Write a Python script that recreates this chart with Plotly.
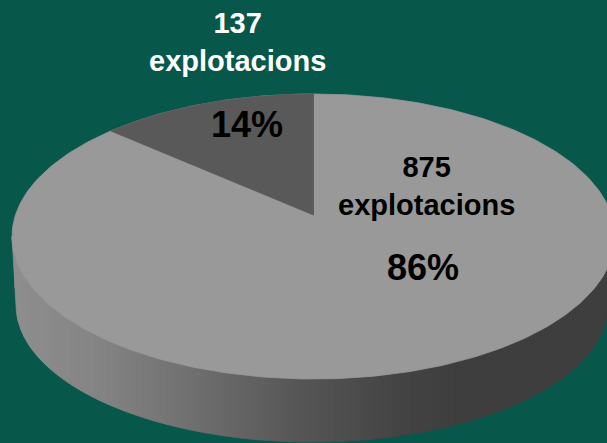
import numpy as np
import plotly.graph_objects as go

# Data
categories = ["Grup A", "Grup B"]
farm_counts = [137, 875]
percent_labels = ["14%", "86%"]
unit_label = "explotacions"

# Styling / geometry
W, H = 607, 443
BG = "#08574b"
TOP = "#999999"
WEDGE = "#595959"
CX, CY, RX, RY = 313.5, 236.5, 301.5, 142.5
TIP_Y = 215
LOW_CX, LOW_CY, LOW_RX, LOW_RY = 312, 305, 296, 137
GRAD_X = [0, 20, 100, 200, 300, 400, 465, 607]
GRAD_V = [142, 142, 132, 110, 86, 68, 62, 62]
STRIP = 3

fig = go.Figure()


def poly(xs, ys, color):
    fig.add_trace(go.Scatter(x=xs, y=ys, mode="lines", fill="toself", fillcolor=color,
                             line=dict(color=color, width=0.8), hoverinfo="skip", showlegend=False))


def half(x, cx, cy, rx, ry):
    return cy + ry * np.sqrt(np.clip(1 - ((x - cx) / rx) ** 2, 0, 1))


# side wall
edges = np.arange(CX - RX, W + STRIP, STRIP, dtype=float)
left_top, left_low = CX - RX, LOW_CX - LOW_RX
for x0, x1 in zip(edges[:-1], edges[1:]):
    xs = np.linspace(x0, x1, 3)
    v = int(np.interp((x0 + x1) / 2, GRAD_X, GRAD_V))
    top = half(xs, CX, CY, RX, RY)
    side = CY + (xs - left_top) / (left_low - left_top) * (LOW_CY - CY)
    bottom = np.where(xs >= left_low, half(xs, LOW_CX, LOW_CY, LOW_RX, LOW_RY), side)
    poly(np.r_[xs, xs[::-1]], np.r_[top, bottom[::-1]], f"rgb({v},{v},{v})")

# top face
t = np.linspace(0, 2 * np.pi, 361)
poly(CX + RX * np.sin(t), CY - RY * np.cos(t), TOP)

# wedge from value
theta = 2 * np.pi * farm_counts[0] / sum(farm_counts)
dx, dy = -np.sin(theta) * RX, -np.cos(theta) * RY
ox, oy = 0.0, TIP_Y - CY
a = (dx / RX) ** 2 + (dy / RY) ** 2
b = 2 * (ox * dx / RX ** 2 + oy * dy / RY ** 2)
c = (ox / RX) ** 2 + (oy / RY) ** 2 - 1
s = (-b + np.sqrt(b * b - 4 * a * c)) / (2 * a)
rim_x, rim_y = CX + ox + s * dx, CY + oy + s * dy
t0 = np.arctan2((rim_x - CX) / RX, (CY - rim_y) / RY)
arc = np.linspace(t0, 0, 80)
poly(np.r_[CX, CX + RX * np.sin(arc), CX], np.r_[TIP_Y, CY - RY * np.cos(arc), TIP_Y], WEDGE)

FONT = "Liberation Sans"


def label(x, y, text, color, size):
    fig.add_annotation(x=x, y=y, text=f"<b>{text}</b>", showarrow=False, xanchor="center", yanchor="middle",
                       font=dict(family=FONT, size=size, color=color))


label(237, 42, f"{farm_counts[0]}<br>{unit_label}", "white", 29)
label(426, 186, f"{farm_counts[1]}<br>{unit_label}", "black", 29)
label(247, 124, percent_labels[0], "black", 36)
label(423, 267, percent_labels[1], "black", 36)

fig.update_layout(width=W, height=H, margin=dict(l=0, r=0, t=0, b=0), paper_bgcolor=BG, plot_bgcolor=BG,
                  showlegend=False,
                  xaxis=dict(range=[0, W], visible=False, fixedrange=True),
                  yaxis=dict(range=[H, 0], visible=False, fixedrange=True))
fig.write_html("out.html", config={"displayModeBar": False}, default_width=f"{W}px", default_height=f"{H}px",
               post_script="document.body.style.margin='0';document.body.style.overflow='hidden';")
